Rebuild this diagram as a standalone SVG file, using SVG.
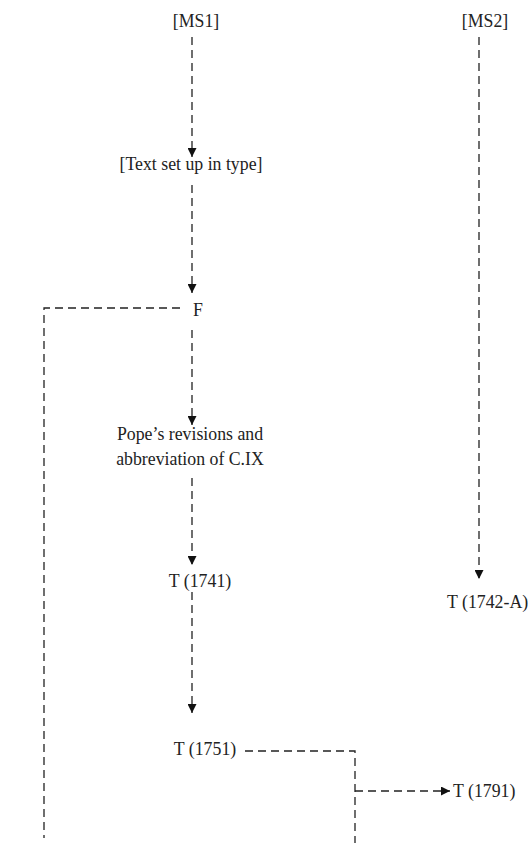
<svg xmlns="http://www.w3.org/2000/svg" width="528" height="843" viewBox="0 0 528 843">
<style>
text{font-family:"Liberation Serif","Times New Roman",serif;font-size:17.8px;fill:#222;}
.c{fill:none;stroke:#222;stroke-width:1.3;stroke-dasharray:8 5;}
</style>
<defs>
<marker id="ah" viewBox="0 0 10 10" refX="10" refY="5" markerWidth="9" markerHeight="9" markerUnits="userSpaceOnUse" orient="auto">
<path d="M0,0 L10,5 L0,10 z" fill="#111"/>
</marker>
</defs>
<rect width="528" height="843" fill="#fff"/>
<g id="connectors">
<path class="c" d="M192,37 V157" marker-end="url(#ah)"/>
<path class="c" d="M192,185 V293" marker-end="url(#ah)"/>
<path class="c" d="M192,330 V425" marker-end="url(#ah)"/>
<path class="c" d="M192,478 V565" marker-end="url(#ah)"/>
<path class="c" d="M192,592 V713" marker-end="url(#ah)"/>
<path class="c" d="M479,37 V579" marker-end="url(#ah)"/>
<path class="c" d="M180,308 H44 V838"/>
<path class="c" d="M245,751 H355 V843"/>
<path class="c" d="M355,791 H450" marker-end="url(#ah)"/>
</g>
<g id="ms1"><text x="196" y="27" text-anchor="middle">[MS1]</text></g>
<g id="ms2"><text x="485" y="27" text-anchor="middle">[MS2]</text></g>
<g id="type"><text x="191" y="170" text-anchor="middle">[Text set up in type]</text></g>
<g id="f"><text x="198" y="316" text-anchor="middle">F</text></g>
<g id="pope"><text x="190" y="440" text-anchor="middle">Pope’s revisions and</text><text x="190" y="465" text-anchor="middle">abbreviation of C.IX</text></g>
<g id="t1741"><text x="200" y="587" text-anchor="middle">T (1741)</text></g>
<g id="t1742a"><text x="447" y="608">T (1742-A)</text></g>
<g id="t1751"><text x="205" y="755" text-anchor="middle">T (1751)</text></g>
<g id="t1791"><text x="453" y="797">T (1791)</text></g>
</svg>
